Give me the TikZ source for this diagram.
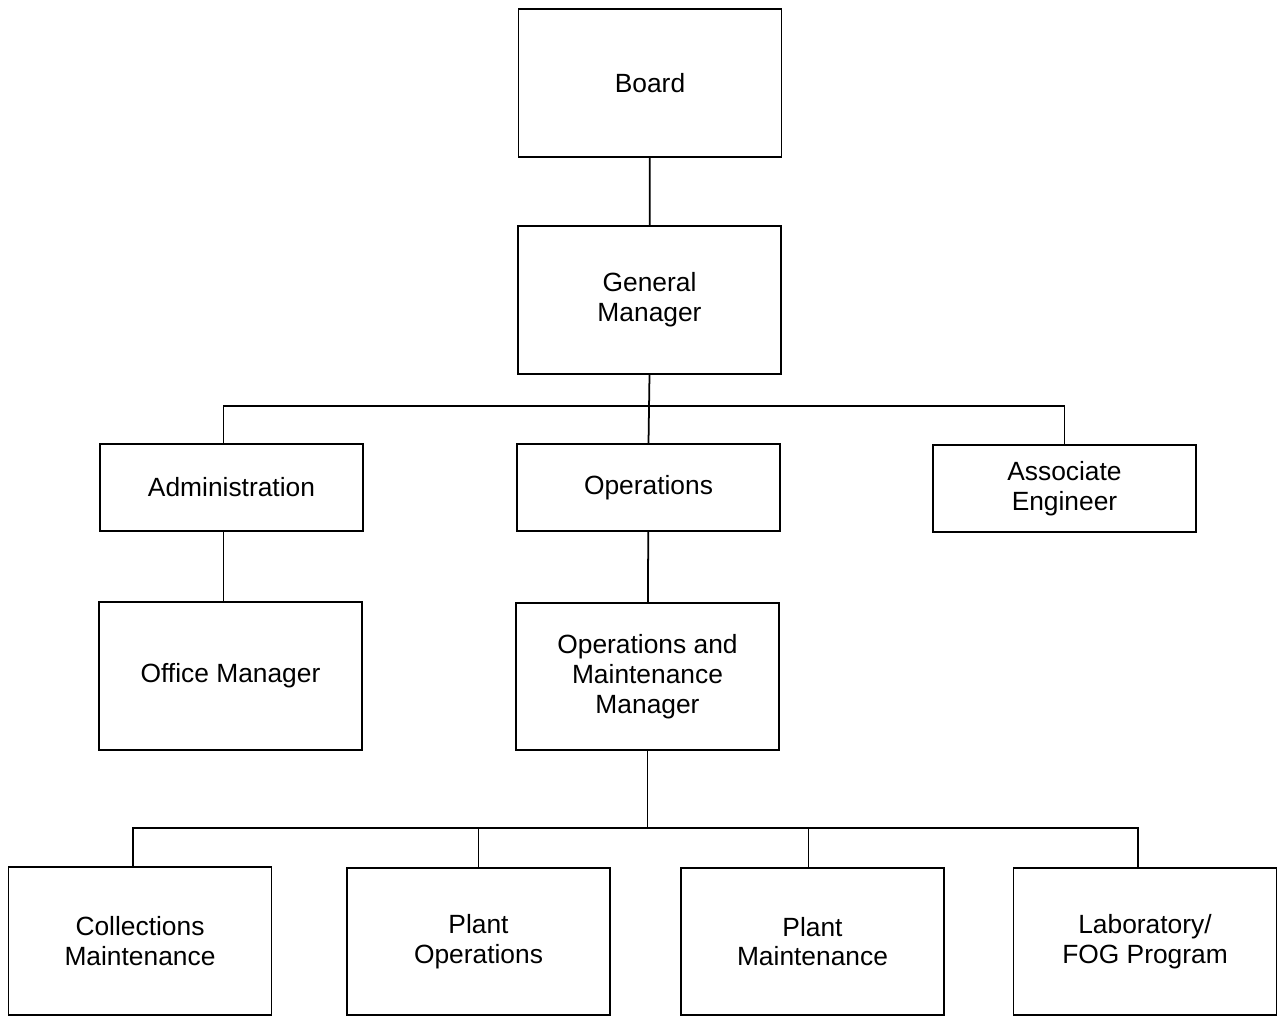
\documentclass[tikz,border=0pt]{standalone}
\usepackage{fontspec}
\setmainfont{Liberation Sans}
\usetikzlibrary{positioning}

\begin{document}
\begin{tikzpicture}[line width=1pt,
    unit/.style={draw, align=center, font=\fontsize{15}{17}\selectfont,
        minimum width=5.26cm, minimum height=2.95cm, inner sep=2pt},
    flat/.style={unit, minimum height=1.74cm}]
    % 画布范围
    \useasboundingbox[fill=white] (0, 0) rectangle (25.54, -20.34);

    % 上层
    \node[unit] (board) at (13.0, -1.66) {Board};
    \node[unit] (gm) at (12.99, -6.0) {General\\Manager};

    % 第二层
    \node[flat] (admin) at (4.63, -9.75) {Administration};
    \node[flat] (ops) at (12.97, -9.75) {Operations};
    \node[flat] (assoc) at (21.29, -9.77) {Associate\\Engineer};

    % 第三层
    \node[unit] (office) at (4.61, -13.52) {Office Manager};
    \node[unit] (omm) at (12.95, -13.53) {Operations and\\Maintenance\\Manager};

    % 底层
    \node[unit] (coll) at (2.8, -18.82) {Collections\\Maintenance};
    \node[unit] (pops) at (9.57, -18.83) {Plant\\Operations};
    \node[unit] (pmaint) at (16.25, -18.83) {Plant\\Maintenance};
    \node[unit] (lab) at (22.9, -18.83) {Laboratory/\\FOG Program};

    % 两条横向总线
    \coordinate (upper) at (0, -8.12);
    \coordinate (lower) at (0, -16.56);

    % 竖线落点（略偏离方框中心）
    \coordinate (adminTop) at ([xshift=-0.16cm]admin.north);
    \coordinate (adminBot) at ([xshift=-0.16cm]admin.south);
    \coordinate (collTop) at ([xshift=-0.14cm]coll.north);
    \coordinate (pmaintTop) at ([xshift=-0.08cm]pmaint.north);
    \coordinate (labTop) at ([xshift=-0.14cm]lab.north);

    % 连线
    \draw (board) -- (gm);
    \draw (gm.south) -- (ops.north);
    \draw (adminTop) |- (assoc.north |- upper) -- (assoc.north);
    \draw (adminBot) -- (adminBot |- office.north);
    \draw (ops) -- (omm);
    \draw (omm.south) -- (omm.south |- lower);
    \draw (collTop) |- (labTop |- lower) -- (labTop);
    \draw (pops.north) -- (pops.north |- lower);
    \draw (pmaintTop) -- (pmaintTop |- lower);
\end{tikzpicture}
\end{document}
